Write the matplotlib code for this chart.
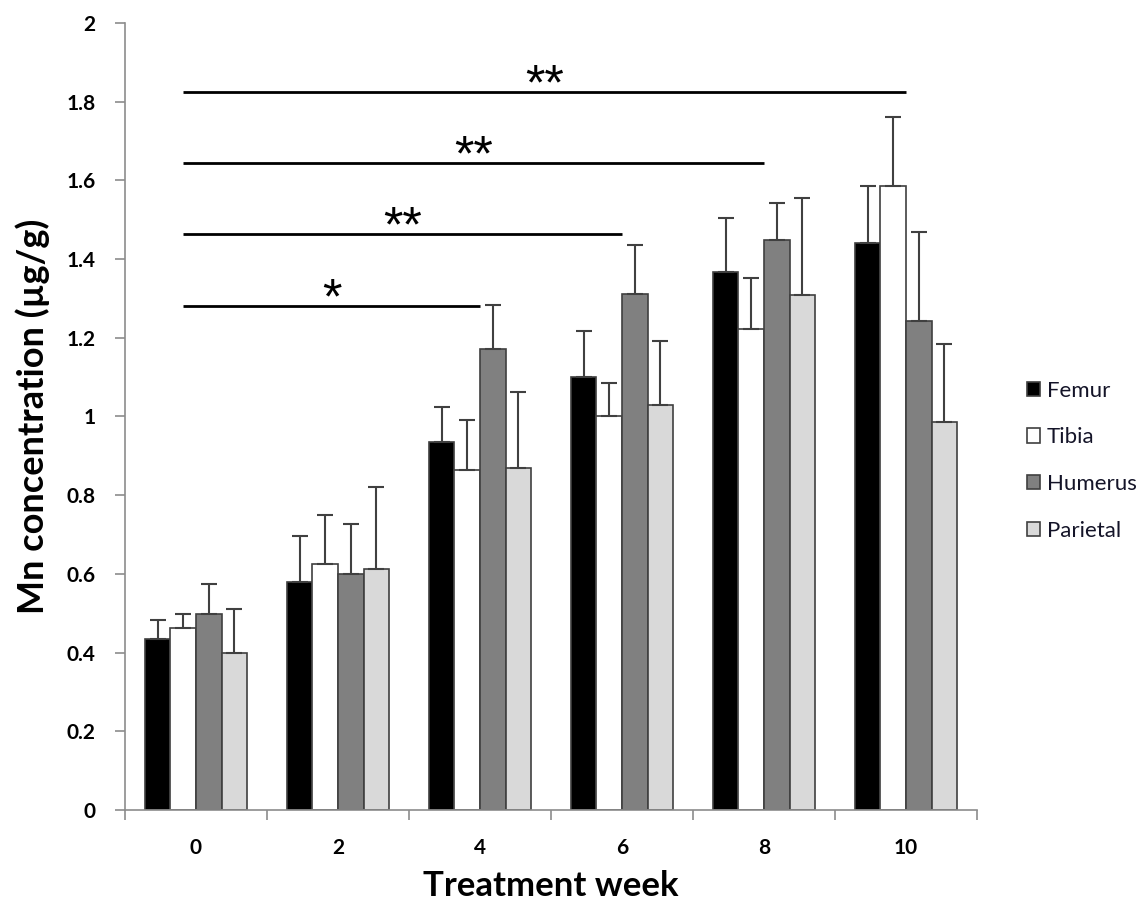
import numpy as np
import matplotlib
matplotlib.use("Agg")
import matplotlib.pyplot as plt

plt.rcParams['font.family'] = ['Lato', 'DejaVu Sans']

weeks = ["0", "2", "4", "6", "8", "10"]
bones = ["Femur", "Tibia", "Humerus", "Parietal"]

femur = [0.435, 0.58, 0.935, 1.10, 1.368, 1.441]
tibia = [0.462, 0.625, 0.865, 1.00, 1.222, 1.586]
humerus = [0.497, 0.60, 1.172, 1.31, 1.448, 1.243]
parietal = [0.40, 0.612, 0.869, 1.028, 1.309, 0.985]

femur_err = [0.048, 0.115, 0.088, 0.117, 0.137, 0.145]
tibia_err = [0.035, 0.125, 0.125, 0.084, 0.13, 0.175]
humerus_err = [0.077, 0.128, 0.111, 0.125, 0.094, 0.226]
parietal_err = [0.112, 0.208, 0.193, 0.165, 0.246, 0.20]

# significance lines from week 0 to the given week index
sig_end = [2, 3, 4, 5]
sig_labels = ["*", "**", "**", "**"]
sig_heights = [1.281, 1.464, 1.644, 1.825]

colors = ["#000000", "#ffffff", "#808080", "#d9d9d9"]
edge = "#404040"

fig = plt.figure(figsize=(11.4, 9.05), dpi=100)
ax = fig.add_axes([0.1096, 0.105, 0.7474, 0.8696])

x = np.arange(len(weeks))
w = 0.18
offsets = [-1.5 * w, -0.5 * w, 0.5 * w, 1.5 * w]
series = [femur, tibia, humerus, parietal]
errs = [femur_err, tibia_err, humerus_err, parietal_err]

for vals, err, off, col, name in zip(series, errs, offsets, colors, bones):
    ax.bar(x + off, vals, w, color=col, edgecolor=edge, linewidth=1.2, label=name, zorder=2)
    ax.errorbar(x + off, vals, yerr=[np.zeros(len(err)), err], fmt="none",
                ecolor=edge, elinewidth=1.5, capsize=6, capthick=1.5, zorder=3)

for end, lab, h in zip(sig_end, sig_labels, sig_heights):
    x0 = offsets[1]
    ax.plot([x0, end], [h, h], color="black", linewidth=2, zorder=4, solid_capstyle="butt")
    ax.text((x0 + end) / 2, h - 0.045, lab, ha="center", va="bottom",
            fontsize=36, family=["Liberation Sans"])

ax.set_xlim(-0.5, len(weeks) - 0.5)
ax.set_ylim(0, 2)
ax.set_yticks(np.arange(0, 2.01, 0.2))
ax.set_yticklabels(["0", "0.2", "0.4", "0.6", "0.8", "1", "1.2", "1.4", "1.6", "1.8", "2"])
ax.set_xticks(x)
ax.set_xticklabels(weeks)
ax.set_xticks(np.arange(-0.5, len(weeks), 1.0), minor=True)
ax.tick_params(axis="x", which="major", length=0, pad=20, labelsize=15)
ax.tick_params(axis="x", which="minor", length=7, color="#8c8c8c", width=1.2)
ax.tick_params(axis="y", length=7, color="#8c8c8c", width=1.2, pad=14, labelsize=15)
for t in ax.get_xticklabels() + ax.get_yticklabels():
    t.set_fontweight("bold")

for s in ["top", "right"]:
    ax.spines[s].set_visible(False)
for s in ["left", "bottom"]:
    ax.spines[s].set_color("#8c8c8c")
    ax.spines[s].set_linewidth(1.2)

ax.set_ylabel("Mn concentration (µg/g)", fontsize=26, fontweight="bold", labelpad=12)
ax.set_xlabel("Treatment week", fontsize=25, fontweight="bold", labelpad=9)

leg = ax.legend(loc="center left", bbox_to_anchor=(0.893, 0.491), bbox_transform=fig.transFigure,
                frameon=False, fontsize=16, handlelength=0.6, handleheight=0.6,
                handletextpad=0.3, labelspacing=1.2, borderaxespad=0)
for t in leg.get_texts():
    t.set_color("#141428")

fig.savefig("out.png", dpi=100)
